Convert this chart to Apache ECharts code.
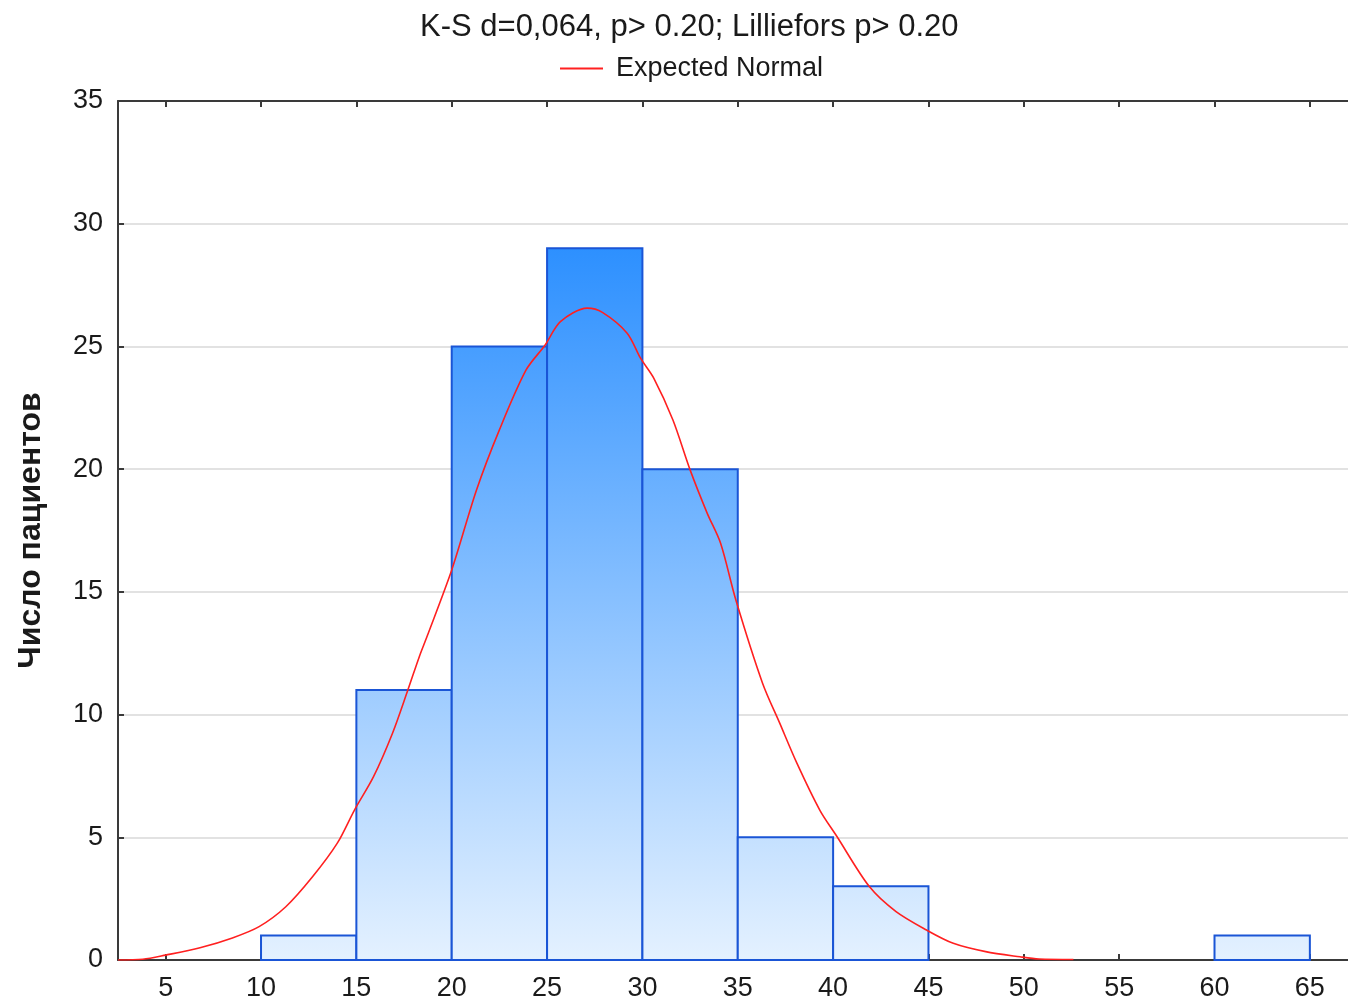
<!DOCTYPE html>
<html>
<head>
<meta charset="utf-8">
<script src="https://cdn.jsdelivr.net/npm/echarts@6/dist/echarts.min.js"></script>
<style>
html,body{margin:0;padding:0;background:#fff;}
#chart{width:1348px;height:1002px;}
</style>
</head>
<body>
<div id="chart"></div>
<script>
const titleText = 'K-S d=0,064, p> 0.20; Lilliefors p> 0.20';
const seriesName = 'Expected Normal';
const yAxisName = 'Число пациентов';

const binStarts = [10, 15, 20, 25, 30, 35, 40, 60];
const binEnds   = [15, 20, 25, 30, 35, 40, 45, 65];
const counts    = [1, 11, 25, 29, 20, 5, 3, 1];

const xTicks = [5, 10, 15, 20, 25, 30, 35, 40, 45, 50, 55, 60, 65];

const normalX = [2.5, 3.8, 5.0, 6.8, 8.5, 9.9, 11.3, 12.7, 14.0, 14.9, 15.9, 16.9, 17.7, 18.3, 18.7, 20.0, 21.3, 22.5, 23.9, 24.9, 25.7, 27.1, 27.9, 29.2, 29.9, 30.6, 31.6, 32.5, 33.4, 34.1, 34.9, 36.3, 37.2, 38.1, 39.3, 40.2, 41.9, 43.3, 44.9, 46.3, 48.0, 49.8, 50.8, 52.6];
const normalY = [0, 0.03, 0.2, 0.5, 0.9, 1.36, 2.17, 3.39, 4.76, 6.11, 7.47, 9.25, 11.0, 12.36, 13.17, 15.89, 19.15, 21.6, 24.04, 25.06, 26.01, 26.56, 26.39, 25.54, 24.52, 23.7, 22.0, 19.97, 18.2, 16.98, 14.67, 11.28, 9.65, 8.02, 6.11, 5.03, 2.99, 1.97, 1.22, 0.68, 0.34, 0.13, 0.04, 0.02];

const barData = binStarts.map((s, i) => [s, binEnds[i], counts[i]]);
const lineData = normalX.map((x, i) => [x, normalY[i]]);
const maxCount = Math.max(...counts);

const chart = echarts.init(document.getElementById('chart'), null, {renderer: 'canvas'});
const axisColor = '#3a3a3a';
const labelColor = '#1a1a1a';
const font = 'Liberation Sans, Arial, sans-serif';

chart.setOption({
  animation: false,
  backgroundColor: '#fff',
  textStyle: {fontFamily: font},
  title: {
    text: titleText,
    left: 415, top: 7,
    textStyle: {fontSize: 31, fontWeight: 'normal', color: labelColor, fontFamily: font}
  },
  legend: {
    data: [{name: seriesName, icon: 'rect'}],
    left: 555, top: 50,
    itemWidth: 43, itemHeight: 2, itemGap: 12,
    textStyle: {fontSize: 27, color: labelColor, fontFamily: font, padding: [0, 0, 0, 8]}
  },
  grid: {left: 118, top: 101, right: 0, height: 859, containLabel: false},
  xAxis: [{
    type: 'value', min: 2.5, max: 67, position: 'bottom',
    axisLine: {show: true, onZero: false, lineStyle: {color: axisColor, width: 2}},
    axisTick: {show: true, inside: true, length: 6, customValues: xTicks, lineStyle: {color: axisColor, width: 2}},
    axisLabel: {show: true, customValues: xTicks, fontSize: 27, color: labelColor, margin: 15, fontFamily: font},
    splitLine: {show: false}
  }, {
    type: 'value', min: 2.5, max: 67, position: 'top',
    axisLine: {show: true, onZero: false, lineStyle: {color: axisColor, width: 2}},
    axisTick: {show: true, inside: true, length: 6, customValues: xTicks, lineStyle: {color: axisColor, width: 2}},
    axisLabel: {show: false},
    splitLine: {show: false}
  }],
  yAxis: {
    type: 'value', min: 0, max: 35, interval: 5,
    name: yAxisName, nameLocation: 'middle', nameGap: 71,
    nameTextStyle: {fontSize: 32, fontWeight: 'bold', color: labelColor, fontFamily: font},
    axisLine: {show: true, onZero: false, lineStyle: {color: axisColor, width: 2}},
    axisTick: {show: true, inside: true, length: 6, lineStyle: {color: axisColor, width: 2}},
    axisLabel: {fontSize: 27, color: labelColor, margin: 15, fontFamily: font},
    splitLine: {show: true, lineStyle: {color: '#d9d9d9', width: 1.5}}
  },
  series: [{
    type: 'custom',
    name: 'hist',
    xAxisIndex: 0, yAxisIndex: 0,
    data: barData,
    z: 2,
    renderItem: function (params, api) {
      const tl = api.coord([api.value(0), api.value(2)]);
      const br = api.coord([api.value(1), 0]);
      const yTop = api.coord([0, maxCount])[1];
      const yBot = api.coord([0, 0])[1];
      const grad = new echarts.graphic.LinearGradient(0, yTop, 0, yBot, [
        {offset: 0, color: '#2d90ff'},
        {offset: 1, color: '#e4f1ff'}
      ], true);
      return {
        type: 'rect',
        shape: {x: tl[0], y: tl[1], width: br[0] - tl[0], height: br[1] - tl[1]},
        style: {fill: grad, stroke: '#1a55d6', lineWidth: 2}
      };
    }
  }, {
    type: 'line',
    name: seriesName,
    xAxisIndex: 0, yAxisIndex: 0,
    data: lineData,
    showSymbol: false,
    smooth: 0.3,
    z: 5,
    itemStyle: {color: '#ff2020'},
    lineStyle: {color: '#ff2020', width: 1.6}
  }]
});
</script>
</body>
</html>
